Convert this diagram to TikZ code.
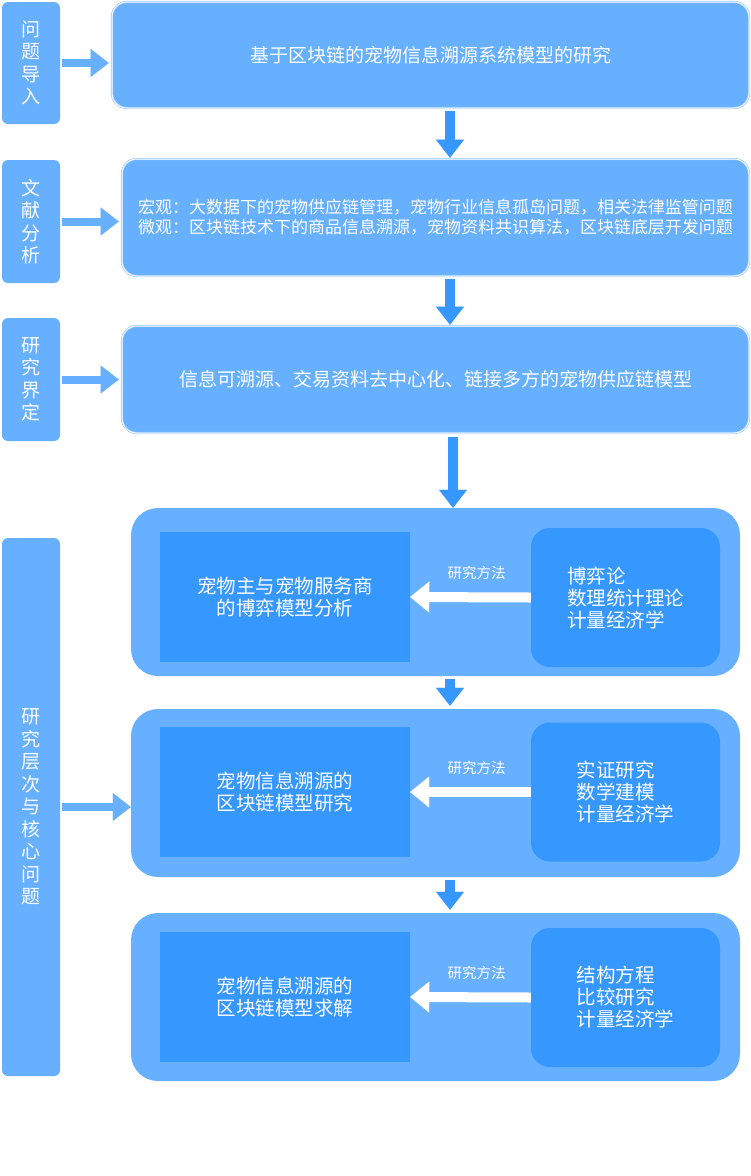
\documentclass[tikz,border=0pt]{standalone}
\usepackage{fontspec}
\newfontfamily\cjk{Noto Sans CJK SC}
\usetikzlibrary{arrows.meta,
	calc,
	positioning}
\definecolor{paleblue}{HTML}{66B0FF}
\definecolor{deepblue}{HTML}{3698FF}
\tikzset{
	side/.style={fill=paleblue, rounded corners=6pt, minimum width=58pt, inner sep=0pt,
		text=white, align=center, font=\cjk\fontsize{19}{22.5}\selectfont},
	topbox/.style={fill=paleblue, draw=paleblue!75, double=white, double distance=1pt,
		line width=0.6pt, rounded corners=15pt, inner sep=0pt, text=white,
		minimum width=627pt, minimum height=107pt, font=\cjk\fontsize{19}{23}\selectfont},
	layer/.style={fill=paleblue, rounded corners=27pt, inner sep=0pt,
		minimum width=609pt, minimum height=168pt},
	topic/.style={fill=deepblue, inner sep=0pt, minimum width=250pt, minimum height=130pt,
		text=white, align=center, font=\cjk\fontsize{19.5}{22}\selectfont},
	method/.style={fill=deepblue, rounded corners=19pt, inner sep=0pt, minimum width=189pt,
		minimum height=139pt, text=white, align=left, font=\cjk\fontsize{19.5}{22}\selectfont},
	sidearrow/.style={draw=paleblue, line width=8pt,
		-{Triangle[width=28pt, length=18pt, line width'=0.1pt]}},
	downarrow/.style={draw=deepblue, line width=10pt,
		-{Triangle[width=28pt, length=18pt, line width'=0.1pt]}},
	backarrow/.style={draw=white, line width=10pt,
		-{Triangle[width=31pt, length=19pt, line width'=0.1pt]}},
	tag/.style={text=white, font=\cjk\fontsize{14.5}{17}\selectfont}
}

\begin{document}
\begin{tikzpicture}[x=1pt, y=-1pt]
	\useasboundingbox (0,0) rectangle (751,1176);
	% left column
	\node[side, minimum height=122pt] (intro) at (31,63) {问\\题\\导\\入};
	\node[side, minimum height=123pt] (review) at (31,221.5) {文\\献\\分\\析};
	\node[side, minimum height=123pt] (scope) at (31,379.5) {研\\究\\界\\定};
	\node[side, minimum height=538pt] (levels) at (31,807) {研\\究\\层\\次\\与\\核\\心\\问\\题};
	% top boxes
	\node[topbox, minimum width=637pt, minimum height=106pt] (title) at (430.5,55)
		{基于区块链的宠物信息溯源系统模型的研究};
	\node[topbox, minimum height=117pt, align=left, font=\cjk\fontsize{17}{20}\selectfont] (lit) at (435.5,217.5)
		{宏观：大数据下的宠物供应链管理，宠物行业信息孤岛问题，相关法律监管问题\\
		 微观：区块链技术下的商品信息溯源，宠物资料共识算法，区块链底层开发问题};
	\node[topbox] (model) at (435.5,379.5)
		{信息可溯源、交易资料去中心化、链接多方的宠物供应链模型};
	% layers
	\node[layer] (lay1) at (435.5,592) {};
	\node[layer] (lay2) at (435.5,793) {};
	\node[layer] (lay3) at (435.5,997) {};
	\node[topic] (game) at (285,597) {宠物主与宠物服务商\\的博弈模型分析};
	\node[method] (m1) at (625.5,597.5) {博弈论\\数理统计理论\\计量经济学};
	\node[topic] (chain) at (285,792) {宠物信息溯源的\\区块链模型研究};
	\node[method] (m2) at (625.5,792) {实证研究\\数学建模\\计量经济学};
	\node[topic] (solve) at (285,997) {宠物信息溯源的\\区块链模型求解};
	\node[method] (m3) at (625.5,997.5) {结构方程\\比较研究\\计量经济学};
	\coordinate (axis) at (450,0);
	% arrows
	\draw[sidearrow, shorten <=2pt, shorten >=3pt] (intro.east) -- (intro.east -| title.west);
	\draw[sidearrow, shorten <=2pt, shorten >=3pt] (review.east) -- (review.east -| lit.west);
	\draw[sidearrow, shorten <=2pt, shorten >=3pt] (scope.east) -- (scope.east -| model.west);
	\draw[sidearrow, shorten <=2pt] (levels.east) -- (levels.east -| lay2.west);
	\draw[downarrow, shorten <=3pt, shorten >=1pt] (title.south -| axis) -- (lit.north -| axis);
	\draw[downarrow, shorten <=3pt, shorten >=1pt] (lit.south -| axis) -- (model.north -| axis);
	\draw[downarrow, shorten <=4pt] ([xshift=3pt]model.south -| axis) -- ([xshift=3pt]lay1.north -| axis);
	\draw[downarrow, shorten <=3pt, shorten >=3pt] (lay1.south -| axis) -- (lay2.north -| axis);
	\draw[downarrow, shorten <=3pt, shorten >=3pt] (lay2.south -| axis) -- (lay3.north -| axis);
	\draw[backarrow] (m1.west) -- node[tag, above=9pt, xshift=6pt] {研究方法} (game.east);
	\draw[backarrow] (m2.west) -- node[tag, above=9pt, xshift=6pt] {研究方法} (chain.east);
	\draw[backarrow] (m3.west) -- node[tag, above=9pt, xshift=6pt] {研究方法} (solve.east);
\end{tikzpicture}
\end{document}
